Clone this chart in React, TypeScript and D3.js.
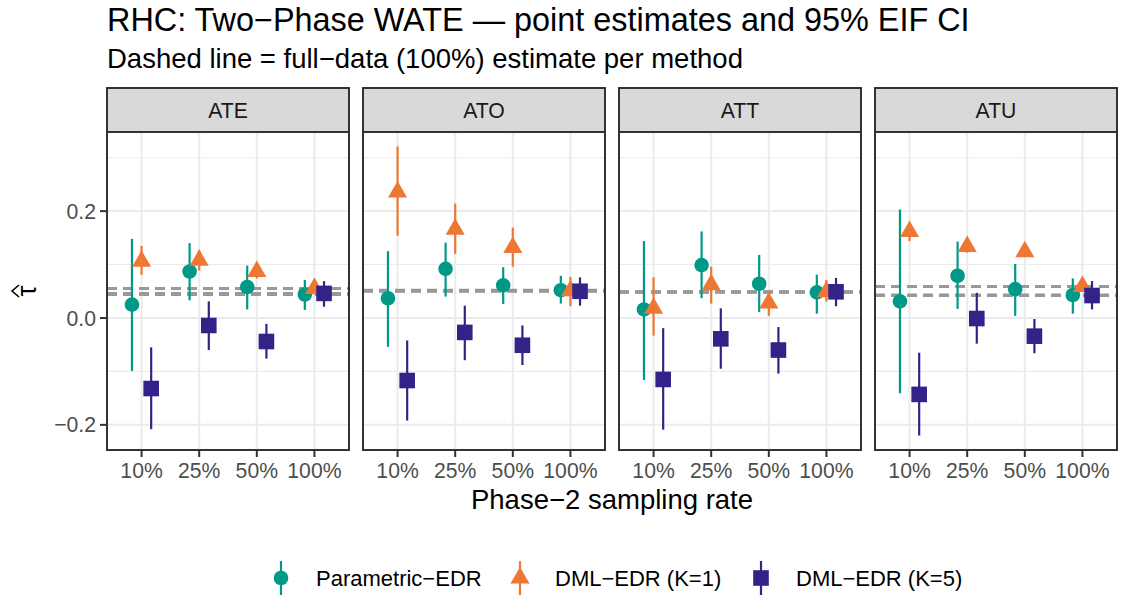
import * as d3 from "d3";

const W = 1122;
const H = 599;
const FONT = "'Liberation Sans', Arial, Helvetica, sans-serif";

const estimands = ["ATE", "ATO", "ATT", "ATU"];
const rates = ["10%", "25%", "50%", "100%"];
const methods = ["Parametric−EDR", "DML−EDR (K=1)", "DML−EDR (K=5)"];
const methodColors = ["#009988", "#EE7733", "#332288"];
const methodShapes = ["circle", "triangle", "square"];

// one row per estimand (ATE, ATO, ATT, ATU), one column per sampling rate
const paramEst = [
  [0.025, 0.087, 0.058, 0.044],
  [0.037, 0.092, 0.061, 0.052],
  [0.016, 0.099, 0.064, 0.048],
  [0.031, 0.079, 0.054, 0.043],
];
const paramLo = [
  [-0.099, 0.033, 0.016, 0.015],
  [-0.054, 0.040, 0.026, 0.027],
  [-0.116, 0.037, 0.011, 0.008],
  [-0.141, 0.017, 0.004, 0.008],
];
const paramHi = [
  [0.148, 0.140, 0.098, 0.071],
  [0.125, 0.141, 0.095, 0.079],
  [0.144, 0.162, 0.118, 0.081],
  [0.203, 0.143, 0.101, 0.074],
];

const dml1Est = [
  [0.106, 0.108, 0.087, 0.055],
  [0.236, 0.166, 0.132, 0.051],
  [0.018, 0.062, 0.028, 0.049],
  [0.162, 0.134, 0.124, 0.059],
];
const dml1Lo = [
  [0.081, 0.089, 0.074, 0.044],
  [0.154, 0.120, 0.096, 0.022],
  [-0.033, 0.027, 0.004, 0.031],
  [0.144, 0.122, 0.119, 0.049],
];
const dml1Hi = [
  [0.135, 0.127, 0.100, 0.070],
  [0.321, 0.214, 0.169, 0.077],
  [0.076, 0.096, 0.051, 0.071],
  [0.178, 0.150, 0.135, 0.075],
];

const dml5Est = [
  [-0.132, -0.014, -0.044, 0.046],
  [-0.117, -0.027, -0.051, 0.050],
  [-0.115, -0.039, -0.060, 0.049],
  [-0.143, -0.001, -0.034, 0.042],
];
const dml5Lo = [
  [-0.208, -0.060, -0.076, 0.021],
  [-0.192, -0.079, -0.088, 0.023],
  [-0.209, -0.095, -0.104, 0.022],
  [-0.220, -0.048, -0.066, 0.016],
];
const dml5Hi = [
  [-0.055, 0.031, -0.011, 0.069],
  [-0.042, 0.023, -0.014, 0.076],
  [-0.019, 0.018, -0.017, 0.075],
  [-0.065, 0.047, -0.002, 0.069],
];

const estBy = [paramEst, dml1Est, dml5Est];
const loBy = [paramLo, dml1Lo, dml5Lo];
const hiBy = [paramHi, dml1Hi, dml5Hi];

interface Row {
  e: number;
  r: number;
  m: number;
  est: number;
  lo: number;
  hi: number;
}

const rows: Row[] = [];
estimands.forEach((_, e) =>
  rates.forEach((_, r) =>
    methods.forEach((_, m) =>
      rows.push({ e, r, m, est: estBy[m][e][r], lo: loBy[m][e][r], hi: hiBy[m][e][r] })
    )
  )
);

// layout
const panelsLeft = 107;
const panelsRight = 1117;
const gap = 14;
const stripTop = 88;
const stripH = 44;
const panelTop = stripTop + stripH;
const panelBottom = 450;
const pw = (panelsRight - panelsLeft - gap * (estimands.length - 1)) / estimands.length;

const tickSize = 21.2;
const baseSize = 27.5;

function Marker({ shape, x, y, color }: { shape: string; x: number; y: number; color: string }) {
  if (shape === "circle") return <circle cx={x} cy={y} r={7.3} fill={color} />;
  if (shape === "square") return <rect x={x - 7.8} y={y - 7.8} width={15.6} height={15.6} fill={color} />;
  const r = 11;
  const xc = r * 0.866;
  return (
    <path d={`M${x},${y - r}L${x + xc},${y + r / 2}L${x - xc},${y + r / 2}Z`} fill={color} />
  );
}

export default function App() {
  const lo = d3.min(rows, (d) => d.lo)!;
  const hi = d3.max(rows, (d) => d.hi)!;
  const pad = (hi - lo) * 0.05;
  const y = d3.scaleLinear().domain([lo - pad, hi + pad]).range([panelBottom, panelTop]);
  const x = d3.scalePoint<string>().domain(rates).range([0, pw]).padding(0.6);
  const step = x.step();
  const dodge = (m: number) => (m - 1) * step * (0.5 / 3);

  const major = y.ticks(3);
  const mstep = major[1] - major[0];
  const minor = d3
    .range(major[0] - mstep / 2, hi + pad, mstep)
    .filter((v) => v >= lo - pad && v <= hi + pad);
  const fmt = d3.format(".1f");

  const legendKeys = [281, 520, 761];

  return (
    <svg
      width={W}
      height={H}
      style={{ position: "absolute", left: 0, top: 0, background: "#fff" }}
      fontFamily={FONT}
    >
      <rect width={W} height={H} fill="#fff" />
      <text x={panelsLeft} y={31} fontSize={32.4} fill="#000">
        RHC: Two−Phase WATE — point estimates and 95% EIF CI
      </text>
      <text x={panelsLeft} y={68} fontSize={baseSize} fill="#000">
        Dashed line = full−data (100%) estimate per method
      </text>

      {estimands.map((name, e) => {
        const px = panelsLeft + e * (pw + gap);
        const pr = rows.filter((d) => d.e === e);
        const full = methods.map((_, m) => estBy[m][e][rates.length - 1]);
        return (
          <g key={name} transform={`translate(${px},0)`}>
            <rect x={0} y={panelTop} width={pw} height={panelBottom - panelTop} fill="#fff" />
            {minor.map((v) => (
              <line key={"mn" + v} x1={0} x2={pw} y1={y(v)} y2={y(v)} stroke="#EBEBEB" strokeWidth={1.1} />
            ))}
            {major.map((v) => (
              <line key={"mj" + v} x1={0} x2={pw} y1={y(v)} y2={y(v)} stroke="#EBEBEB" strokeWidth={2} />
            ))}
            {rates.map((r) => (
              <line key={"vx" + r} x1={x(r)} x2={x(r)} y1={panelTop} y2={panelBottom} stroke="#EBEBEB" strokeWidth={2} />
            ))}
            {full.map((v, m) => (
              <line
                key={"h" + m}
                x1={0}
                x2={pw}
                y1={y(v)}
                y2={y(v)}
                stroke="#999999"
                strokeWidth={3}
                strokeDasharray="10,6"
              />
            ))}
            {pr.map((d, i) => {
              const cx = x(rates[d.r])! + dodge(d.m);
              return (
                <g key={i}>
                  <line x1={cx} x2={cx} y1={y(d.lo)} y2={y(d.hi)} stroke={methodColors[d.m]} strokeWidth={2.2} />
                  <Marker shape={methodShapes[d.m]} x={cx} y={y(d.est)} color={methodColors[d.m]} />
                </g>
              );
            })}
            <rect
              x={0}
              y={panelTop}
              width={pw}
              height={panelBottom - panelTop}
              fill="none"
              stroke="#333333"
              strokeWidth={2}
            />
            <rect x={0} y={stripTop} width={pw} height={stripH} fill="#D9D9D9" stroke="#333333" strokeWidth={2} />
            <text x={pw / 2} y={stripTop + stripH / 2 + 7.6} fontSize={tickSize} fill="#1A1A1A" textAnchor="middle">
              {name}
            </text>
            {rates.map((r) => (
              <g key={"xt" + r}>
                <line x1={x(r)} x2={x(r)} y1={panelBottom} y2={panelBottom + 7} stroke="#333333" strokeWidth={2} />
                <text x={x(r)} y={478} fontSize={tickSize} fill="#4D4D4D" textAnchor="middle">
                  {r}
                </text>
              </g>
            ))}
          </g>
        );
      })}

      {major.map((v) => (
        <g key={"yt" + v}>
          <line x1={panelsLeft - 7} x2={panelsLeft} y1={y(v)} y2={y(v)} stroke="#333333" strokeWidth={2} />
          <text x={panelsLeft - 11} y={y(v) + 7.6} fontSize={tickSize} fill="#4D4D4D" textAnchor="end">
            {fmt(v)}
          </text>
        </g>
      ))}

      {/* y title: tau with a hat, rotated */}
      <g transform={`translate(36,${(panelTop + panelBottom) / 2}) rotate(-90)`}>
        <text x={0} y={0} fontSize={baseSize} textAnchor="middle" fill="#000">
          τ
        </text>
        <path d="M-6,-17L0,-24L6,-17" fill="none" stroke="#000" strokeWidth={1.6} />
      </g>
      <text x={(panelsLeft + panelsRight) / 2} y={509} fontSize={baseSize} textAnchor="middle" fill="#000">
        Phase−2 sampling rate
      </text>

      {methods.map((name, m) => {
        const kx = legendKeys[m];
        const ky = 578;
        return (
          <g key={name}>
            <line x1={kx} x2={kx} y1={ky - 17} y2={ky + 17} stroke={methodColors[m]} strokeWidth={2.2} />
            <Marker shape={methodShapes[m]} x={kx} y={ky} color={methodColors[m]} />
            <text x={kx + 35} y={ky + 7.6} fontSize={22} fill="#000">
              {name}
            </text>
          </g>
        );
      })}
    </svg>
  );
}
